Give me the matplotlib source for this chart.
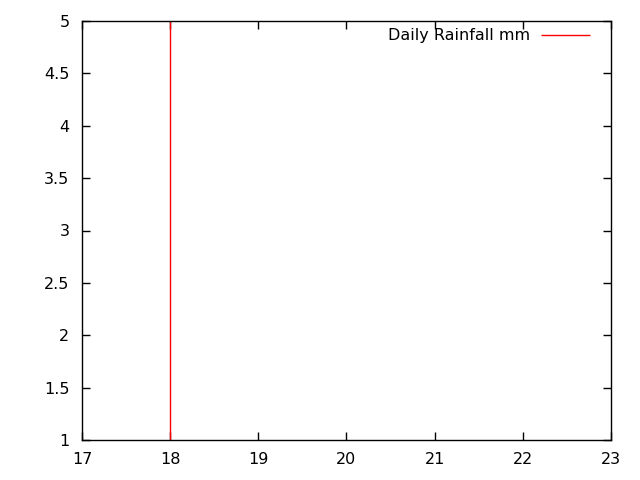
import matplotlib
matplotlib.use("Agg")
import matplotlib.pyplot as plt

# rainfall per day of month
days = [18]
rain_mm = [5]

x_ticks = [17, 18, 19, 20, 21, 22, 23]
y_ticks = [1, 1.5, 2, 2.5, 3, 3.5, 4, 4.5, 5]
y_labels = ["1", "1.5", "2", "2.5", "3", "3.5", "4", "4.5", "5"]

fig = plt.figure(figsize=(6.4, 4.8), dpi=100)
ax = fig.add_axes([82/640, 40/480, 529/640, 419/480])

# impulses, like gnuplot "with impulses"
ax.vlines(days, 0, rain_mm, colors="red", linewidth=1, label="Daily Rainfall mm")

ax.set_xlim(17, 23)
ax.set_ylim(1, 5)
ax.set_xticks(x_ticks)
ax.set_yticks(y_ticks)
ax.set_yticklabels(y_labels)
ax.tick_params(direction="in", length=6, width=1, top=True, right=True,
               labelsize=11.5)
ax.tick_params(axis="x", pad=9)
ax.tick_params(axis="y", pad=9)
for s in ax.spines.values():
    s.set_linewidth(1)

leg = ax.legend(loc="upper right", bbox_to_anchor=(0.973, 0.998),
                borderaxespad=0, frameon=False, markerfirst=False,
                fontsize=11.5, handlelength=3.1, handletextpad=0.7)

fig.savefig("out.png", dpi=100)
